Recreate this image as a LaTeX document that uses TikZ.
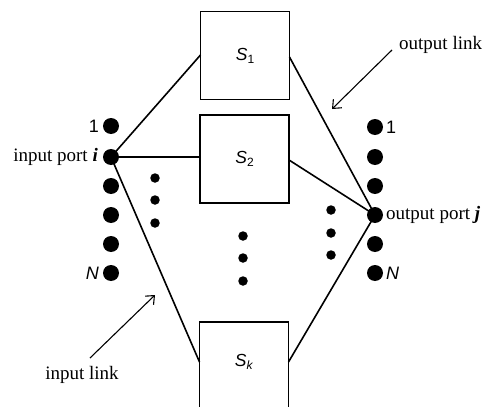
\documentclass[tikz,border=0pt]{standalone}
\usepackage{fontspec}
\setmainfont{Liberation Serif}
\newfontfamily\labelsans{Liberation Sans}
\usetikzlibrary{arrows.meta}
\newcommand{\planename}[1]{\textit{S}\raisebox{-3pt}{\fontsize{12}{14}\selectfont #1}}
\begin{document}
\begin{tikzpicture}[x=1pt,y=-1pt,
  switchbox/.style={draw,line width=1.5pt,minimum width=89pt,minimum height=88pt,inner sep=0pt,
    font=\labelsans\fontsize{17.5}{19}\selectfont},
  port/.style={circle,fill=black,inner sep=0pt,minimum size=16pt},
  gap/.style={circle,fill=black,inner sep=0pt,minimum size=9.5pt},
  link/.style={line width=1.6pt},
  callout/.style={line width=1.1pt,-{Straight Barb[length=7pt,width=12pt]}},
  txt/.style={font=\fontsize{19}{21}\selectfont,inner sep=0pt},
  stxt/.style={font=\labelsans\fontsize{18}{20}\selectfont,inner sep=0pt}]
\useasboundingbox (0,0) rectangle (483,407);

% switching planes
\node[switchbox] (s1) at (245,55.5) {\planename{1}};
\node[switchbox] (s2) at (244.5,159) {\planename{2}};
\node[switchbox,anchor=north,minimum height=100pt] (sk) at (244,321) {};
\node[font=\labelsans\fontsize{17.5}{19}\selectfont,inner sep=0pt] (skl) at (244,362) {\planename{\textit{k}}};

% input ports
\foreach \n/\y in {1/126,2/157,3/186,4/215,5/244,6/273}
  \node[port] (in\n) at (111,\y) {};
% output ports
\foreach \n/\y in {1/127,2/157,3/186,4/215,5/244,6/273}
  \node[port] (out\n) at (375,\y) {};

% ellipses
\foreach \n/\y in {1/178,2/200,3/223} \node[gap] (la\n) at (155,\y) {};
\foreach \n/\y in {1/210,2/233,3/255} \node[gap] (ra\n) at (331,\y) {};
\foreach \n/\y in {1/236,2/258,3/281} \node[gap] (ma\n) at (243,\y) {};

% port labels
\node[stxt,anchor=east] (l1) at (99,126) {1};
\node[txt,anchor=east] (li) at (98,157) {input port \textbf{\textit{i}}};
\node[stxt,anchor=east] (lN) at (99,273) {\textit{N}};
\node[stxt,anchor=west] (r1) at (386,127) {1};
\node[txt,anchor=west] (rj) at (386,215) {output port \textbf{\textit{j}}};
\node[stxt,anchor=west] (rN) at (386,273) {\textit{N}};

% links through the planes
\coordinate (s1in) at (200.5,55);
\coordinate (s1out) at (289.5,57);
\coordinate (s2in) at (200,157);
\coordinate (s2out) at (289,160);
\coordinate (skin) at (199.5,362);
\coordinate (skout) at (288.5,362);
\draw[link] (in2.center) -- (s1in);
\draw[link] (in2.center) -- (s2in);
\draw[link] (in2.center) -- (skin);
\draw[link] (s1out) -- (out4.center);
\draw[link] (s2out) -- (out4.center);
\draw[link] (skout) -- (out4.center);

% callouts
\node[txt,anchor=west] (ol) at (399,45) {output link};
\coordinate (olt) at (332,109);
\draw[callout] (392,50) -- (olt);
\node[txt] (il) at (82,375) {input link};
\coordinate (ilt) at (155,295);
\draw[callout] (90,358) -- (ilt);
\end{tikzpicture}
\end{document}
